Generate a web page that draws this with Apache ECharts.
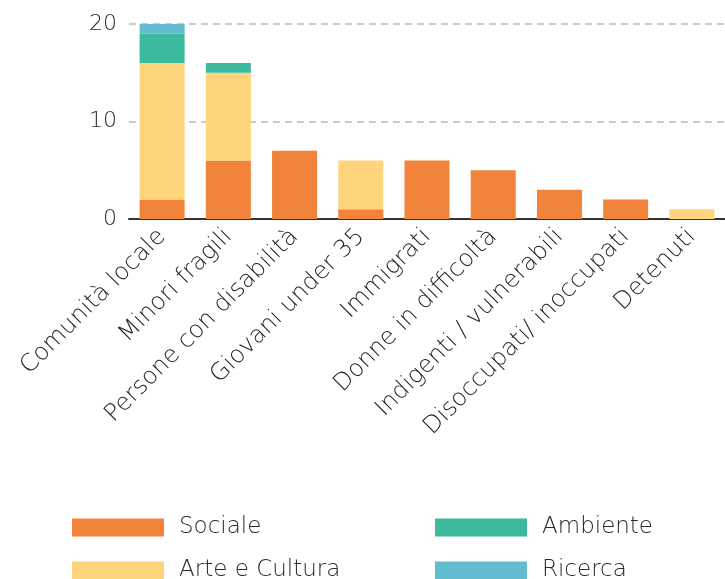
<!DOCTYPE html>
<html>
<head>
<meta charset="utf-8">
<script src="https://cdn.jsdelivr.net/npm/echarts@6/dist/echarts.min.js"></script>
<style>
  html, body { margin: 0; padding: 0; background: #fff; }
  #chart { width: 725px; height: 579px; }
</style>
</head>
<body>
<div id="chart"></div>
<script>
// Beneficiari per area di intervento
const categories = [
  'Comunità locale', 'Minori fragili', 'Persone con disabilità', 'Giovani under 35',
  'Immigrati', 'Donne in difficoltà', 'Indigenti / vulnerabili',
  'Disoccupati/ inoccupati', 'Detenuti'
];
const sociale   = [2, 6, 7, 1, 6, 5, 3, 2, 0];
const arte      = [14, 9, 0, 5, 0, 0, 0, 0, 1];
const ambiente  = [3, 1, 0, 0, 0, 0, 0, 0, 0];
const ricerca   = [1, 0, 0, 0, 0, 0, 0, 0, 0];
const yTicks    = [0, 10, 20];

const FONT = '"DejaVu Sans", sans-serif';
const colors = { Sociale: '#F1833B', 'Arte e Cultura': '#FED47C', Ambiente: '#3BBA9E', Ricerca: '#62BCD0' };

const chart = echarts.init(document.getElementById('chart'));

function bar(name, data) {
  return {
    name, type: 'bar', stack: 'tot', data,
    barWidth: 45,
    itemStyle: { color: colors[name] },
    emphasis: { disabled: true }
  };
}

const legendText = { color: '#2a2a2a', fontSize: 23, fontFamily: FONT, fontWeight: 200, padding: [0, 0, 0, 10] };

// one legend entry per box so the 2x2 layout stays fixed
function legendItem(name, left, top) {
  return {
    data: [name], left, top, itemWidth: 92, itemHeight: 18, icon: 'rect',
    textStyle: legendText, selectedMode: false, padding: 0
  };
}

chart.setOption({
  animation: false,
  grid: { left: 129, top: 24, width: 616, height: 195 },
  legend: [
    legendItem('Sociale', 72, 516),
    legendItem('Arte e Cultura', 72, 559),
    legendItem('Ambiente', 435, 516),
    legendItem('Ricerca', 435, 559)
  ],
  xAxis: {
    type: 'category', data: categories,
    axisLine: { lineStyle: { color: '#333', width: 2 } },
    axisTick: { show: false },
    axisLabel: { rotate: 45, interval: 0, margin: 14, color: '#1e1e1e', fontSize: 24, fontFamily: FONT, fontWeight: 200 }
  },
  yAxis: {
    type: 'value', min: yTicks[0], max: yTicks[yTicks.length - 1], interval: 10,
    axisLine: { show: false }, axisTick: { show: false },
    axisLabel: { margin: 12, color: '#2a2a2a', fontSize: 22, fontFamily: FONT, fontWeight: 200 },
    splitLine: { lineStyle: { color: '#bbb', type: [7, 5], width: 1.5 } }
  },
  series: [
    bar('Sociale', sociale),
    bar('Arte e Cultura', arte),
    bar('Ambiente', ambiente),
    bar('Ricerca', ricerca)
  ]
});
</script>
</body>
</html>
